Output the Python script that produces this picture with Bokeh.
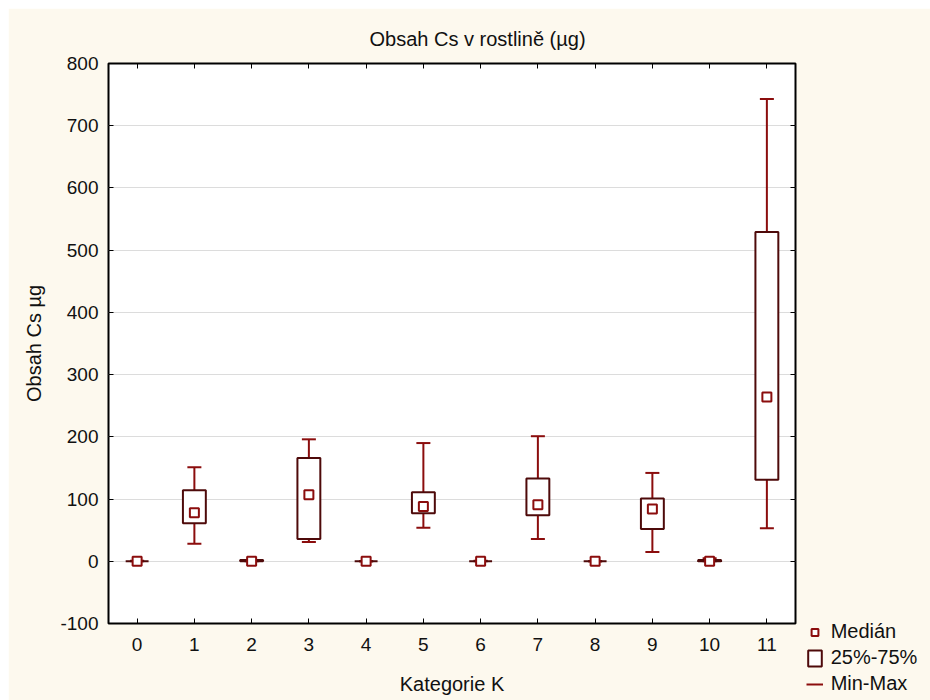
import numpy as np
from bokeh.plotting import figure
from bokeh.models import (ColumnDataSource, LinearAxis, FixedTicker, Range1d,
                          Legend, LegendItem, Title)
from bokeh.embed import file_html
from bokeh.resources import INLINE

# ---- data ----
categories = [0, 1, 2, 3, 4, 5, 6, 7, 8, 9, 10, 11]
mins    = [0, 28, 0, 31, 0, 54, 0, 36, 0, 15, 0, 53]
q1      = [0, 61, 0, 36, 0, 77, 0, 74, 0, 52, 0, 131]
medians = [0, 78, 0, 107, 0, 88, 0, 91, 0, 84, 0, 264]
q3      = [0, 114, 2, 166, 0, 111, 0, 133, 0, 101, 2, 529]
maxs    = [1, 151, 1, 196, 0, 190, 1, 201, 0, 142, 5, 743]
y_ticks = [-100, 0, 100, 200, 300, 400, 500, 600, 700, 800]

title_text = "Obsah Cs v rostlině (µg)"
x_label = "Kategorie K"
y_label = "Obsah Cs µg"

FONT = "Liberation Sans"
CREAM = "#FDF9EE"
WHISK = "#8B0D0D"
BOXC = "#4E0A0A"

src = ColumnDataSource(dict(x=categories, mn=mins, q1=q1, med=medians, q3=q3, mx=maxs))

p = figure(frame_width=687, frame_height=560, output_backend="svg", toolbar_location=None,
           x_range=Range1d(-0.5, 11.5), y_range=Range1d(-100, 800),
           min_border_left=100, min_border_right=135, min_border_top=55,
           min_border_bottom=77, x_axis_location=None, y_axis_location=None)
p.styles = {"margin-left": "8px", "margin-top": "8px"}
p.background_fill_color = "white"
p.border_fill_color = CREAM
p.outline_line_color = "black"
p.outline_line_width = 2

# axes
def mk_axis(ticks, labels=True, label=None):
    ax = LinearAxis(ticker=FixedTicker(ticks=ticks))
    ax.axis_line_color = None
    ax.major_tick_in = 5
    ax.major_tick_out = 0
    ax.minor_tick_line_color = None
    ax.major_tick_line_color = "black"
    ax.major_label_text_font = FONT
    ax.major_label_text_font_size = "19px"
    ax.major_label_text_color = "#111111"
    if labels:
        ax.major_label_overrides = {v: str(v) for v in ticks}
    else:
        ax.major_label_overrides = {v: "" for v in ticks}
        ax.major_label_standoff = 0
    if label:
        ax.axis_label = label
        ax.axis_label_text_font = FONT
        ax.axis_label_text_font_size = "20px"
        ax.axis_label_text_font_style = "normal"
        ax.axis_label_text_color = "#111111"
    return ax

left = mk_axis(y_ticks, True, y_label)
left.major_label_standoff = 10
left.axis_label_standoff = 12
p.add_layout(left, "left")
bottom = mk_axis(categories, True, x_label)
bottom.major_label_standoff = 14
bottom.axis_label_standoff = 19
p.add_layout(bottom, "below")
right = mk_axis(y_ticks, False)
p.add_layout(right, "right")
top = mk_axis(categories, False)
p.add_layout(top, "above")

# title (added after the top axis so it sits above it)
t = Title(text=title_text, align="left", text_font=FONT, text_font_size="20px",
          text_font_style="normal", text_color="#111111", offset=261, standoff=27)
p.add_layout(t, "above")

p.xgrid.visible = False
p.ygrid.ticker = FixedTicker(ticks=y_ticks)
p.ygrid.grid_line_color = "#DCDCDC"
p.ygrid.grid_line_width = 1

# whiskers
stem_lo = p.segment(x0="x", y0="mn", x1="x", y1="q1", source=src,
                    line_color=WHISK, line_width=2)
p.segment(x0="x", y0="q3", x1="x", y1="mx", source=src,
          line_color=WHISK, line_width=2)
p.scatter(x="x", y="mx", source=src, marker="dash", size=14,
          line_color=WHISK, line_width=2)
p.scatter(x="x", y="mn", source=src, marker="dash", size=14,
          line_color=WHISK, line_width=2)

# boxes
box = p.vbar(x="x", width=0.4, bottom="q1", top="q3", source=src,
             fill_color="white", line_color=BOXC, line_width=2)

# medians
med = p.scatter(x="x", y="med", source=src, marker="square", size=9,
                fill_color="white", line_color=WHISK, line_width=2)

legend = Legend(items=[LegendItem(label="Medián", renderers=[med]),
                       LegendItem(label="25%-75%", renderers=[box]),
                       LegendItem(label="Min-Max", renderers=[stem_lo])],
                location=(-231, -72), orientation="vertical",
                glyph_width=17, glyph_height=20, spacing=3, padding=0, margin=0,
                label_standoff=8, label_text_font=FONT, label_text_font_size="20px",
                label_text_color="#111111", border_line_color=None,
                background_fill_alpha=0)
p.add_layout(legend, "right")

open("out.html", "w").write(file_html(p, INLINE))
